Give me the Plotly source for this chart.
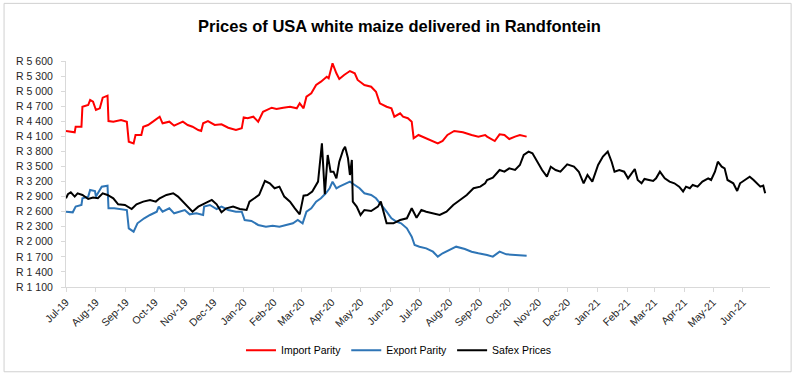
import plotly.graph_objects as go

# ---------------- data ----------------
import_dates = ["2019-07-01","2019-07-10","2019-07-11","2019-07-17","2019-07-18","2019-07-24","2019-07-26","2019-07-29",
    "2019-08-01","2019-08-05","2019-08-08","2019-08-13","2019-08-14","2019-08-19","2019-08-27","2019-09-02","2019-09-04",
    "2019-09-09","2019-09-11","2019-09-17","2019-09-19","2019-09-24","2019-09-29","2019-10-06","2019-10-09","2019-10-16",
    "2019-10-21","2019-10-30","2019-11-04","2019-11-09","2019-11-15","2019-11-18","2019-11-20","2019-11-25","2019-12-02",
    "2019-12-09","2019-12-16","2019-12-24","2019-12-30","2020-01-01","2020-01-05","2020-01-11","2020-01-16","2020-01-21",
    "2020-01-30","2020-02-04","2020-02-11","2020-02-18","2020-02-25","2020-02-28","2020-03-03","2020-03-06","2020-03-11",
    "2020-03-16","2020-03-21","2020-03-27","2020-03-29","2020-04-02","2020-04-06","2020-04-09","2020-04-14","2020-04-20",
    "2020-04-25","2020-04-28","2020-05-05","2020-05-12","2020-05-17","2020-05-21","2020-05-28","2020-06-02","2020-06-05",
    "2020-06-11","2020-06-14","2020-06-19","2020-06-23","2020-06-25","2020-06-30","2020-07-06","2020-07-13","2020-07-20",
    "2020-07-25","2020-07-30","2020-08-06","2020-08-15","2020-08-24","2020-08-31","2020-09-07","2020-09-09","2020-09-17",
    "2020-09-22","2020-09-27","2020-10-02","2020-10-08","2020-10-13","2020-10-20"]
import_parity = [4206,4180,4292,4292,4690,4724,4824,4790,
    4624,4658,4870,4910,4405,4392,4425,4392,3993,
    3960,4127,4127,4292,4326,4392,4491,4360,4392,
    4312,4392,4326,4292,4226,4206,4360,4405,4326,
    4340,4272,4226,4260,4478,4460,4491,4392,4590,
    4670,4645,4670,4690,4658,4758,4658,4890,4957,
    5122,5188,5287,5255,5553,5355,5241,5321,5400,
    5355,5222,5122,5088,4989,4758,4690,4658,4491,
    4558,4491,4460,4392,4062,4127,4074,4027,3960,
    4007,4127,4206,4180,4127,4094,4127,4094,4007,
    4140,4127,4047,4094,4127,4094]

export_dates = ["2019-07-01","2019-07-08","2019-07-11","2019-07-17","2019-07-18","2019-07-24","2019-07-26","2019-07-31",
    "2019-08-01","2019-08-07","2019-08-13","2019-08-14","2019-08-20","2019-08-27","2019-09-02","2019-09-04","2019-09-09",
    "2019-09-13","2019-09-20","2019-09-26","2019-10-03","2019-10-05","2019-10-09","2019-10-16","2019-10-21","2019-11-01",
    "2019-11-06","2019-11-13","2019-11-20","2019-11-21","2019-11-27","2019-12-04","2019-12-09","2019-12-16","2019-12-24",
    "2019-12-30","2020-01-02","2020-01-09","2020-01-16","2020-01-24","2020-01-31","2020-02-07","2020-02-14","2020-02-21",
    "2020-02-26","2020-03-02","2020-03-06","2020-03-11","2020-03-16","2020-03-21","2020-03-26","2020-03-30","2020-04-02",
    "2020-04-06","2020-04-09","2020-04-14","2020-04-20","2020-04-25","2020-04-30","2020-05-05","2020-05-12","2020-05-17",
    "2020-05-23","2020-05-28","2020-06-02","2020-06-07","2020-06-12","2020-06-18","2020-06-23","2020-06-26","2020-07-01",
    "2020-07-08","2020-07-15","2020-07-20","2020-07-25","2020-08-01","2020-08-08","2020-08-17","2020-08-24","2020-08-31",
    "2020-09-07","2020-09-09","2020-09-15","2020-09-22","2020-09-29","2020-10-06","2020-10-13","2020-10-20"]
export_parity = [2600,2587,2700,2733,2867,2900,3032,3012,
    2900,3098,3118,2667,2667,2653,2633,2268,2202,
    2368,2468,2534,2600,2700,2600,2667,2567,2633,
    2547,2567,2534,2700,2733,2653,2700,2633,2600,
    2600,2434,2414,2335,2301,2321,2301,2335,2368,
    2434,2368,2600,2667,2800,2867,2966,3066,3198,
    3066,3100,3150,3198,3132,3066,2966,2933,2867,
    2733,2600,2468,2401,2368,2268,2102,1937,1903,
    1870,1803,1704,1771,1837,1903,1857,1803,1771,
    1751,1737,1704,1803,1751,1737,1724,1724]

safex_dates = ["2019-07-01","2019-07-03","2019-07-06","2019-07-10","2019-07-13","2019-07-18","2019-07-24","2019-07-29",
    "2019-08-03","2019-08-08","2019-08-13","2019-08-19","2019-08-24","2019-08-31","2019-09-07","2019-09-12","2019-09-19",
    "2019-09-26","2019-10-02","2019-10-06","2019-10-13","2019-10-20","2019-10-25","2019-10-30","2019-11-04","2019-11-09",
    "2019-11-15","2019-11-20","2019-11-22","2019-11-29","2019-12-04","2019-12-09","2019-12-14","2019-12-21","2019-12-28",
    "2020-01-04","2020-01-07","2020-01-12","2020-01-17","2020-01-23","2020-01-28","2020-02-02","2020-02-07","2020-02-12",
    "2020-02-18","2020-02-23","2020-02-28","2020-03-03","2020-03-07","2020-03-12","2020-03-18","2020-03-22","2020-03-25",
    "2020-03-28","2020-03-31","2020-04-03","2020-04-06","2020-04-09","2020-04-13","2020-04-15","2020-04-18","2020-04-20",
    "2020-04-22","2020-04-23","2020-04-27","2020-05-01","2020-05-05","2020-05-12","2020-05-19","2020-05-22","2020-05-25",
    "2020-05-28","2020-06-04","2020-06-11","2020-06-18","2020-06-23","2020-06-28","2020-07-03","2020-07-08","2020-07-15",
    "2020-07-22","2020-07-29","2020-08-05","2020-08-12","2020-08-19","2020-08-26","2020-09-02","2020-09-07","2020-09-09",
    "2020-09-15","2020-09-22","2020-09-27","2020-10-02","2020-10-08","2020-10-13","2020-10-17","2020-10-22","2020-10-26",
    "2020-10-31","2020-11-05","2020-11-10","2020-11-14","2020-11-19","2020-11-24","2020-12-01","2020-12-08","2020-12-13",
    "2020-12-18","2020-12-22","2020-12-27","2021-01-02","2021-01-07","2021-01-12","2021-01-16","2021-01-19","2021-01-24",
    "2021-01-29","2021-02-02","2021-02-05","2021-02-09","2021-02-12","2021-02-16","2021-02-19","2021-02-24","2021-02-28",
    "2021-03-03","2021-03-07","2021-03-12","2021-03-17","2021-03-22","2021-03-27","2021-03-31","2021-04-03","2021-04-07",
    "2021-04-10","2021-04-15","2021-04-20","2021-04-26","2021-04-29","2021-05-03","2021-05-06","2021-05-10","2021-05-13",
    "2021-05-16","2021-05-22","2021-05-26","2021-05-29","2021-06-03","2021-06-08","2021-06-12","2021-06-15","2021-06-19",
    "2021-06-22","2021-06-24"]
safex_prices = [2867,2946,2986,2900,2966,2933,2853,2880,
    2867,2966,2933,2867,2747,2733,2653,2747,2800,
    2833,2800,2867,2933,2966,2900,2800,2700,2600,
    2700,2747,2766,2833,2747,2587,2667,2700,2653,
    2633,2800,2867,2933,3211,3165,3066,3098,2900,
    2800,2667,2547,2919,2933,3002,3198,3961,2946,
    3729,3396,3396,3264,3595,3828,3894,3663,3330,
    3629,2800,2700,2534,2633,2613,2700,2800,2600,
    2368,2368,2434,2468,2667,2480,2633,2600,2567,
    2534,2600,2733,2833,2933,3066,3098,3165,3231,
    3277,3430,3396,3463,3430,3529,3729,3795,3762,
    3595,3430,3297,3496,3430,3396,3543,3496,3396,
    3165,3330,3198,3529,3696,3795,3595,3396,3430,
    3396,3264,3343,3450,3231,3165,3251,3231,3211,
    3264,3396,3264,3198,3165,3098,3002,3098,3066,
    3132,3098,3198,3264,3231,3396,3595,3496,3463,
    3231,3165,3012,3165,3231,3297,3231,3165,3098,
    3118,2966]

y_tick_values = [1100,1400,1700,2000,2300,2600,2900,3200,3500,3800,4100,4400,4700,5000,5300,5600]
y_tick_labels = ["R 1 100","R 1 400","R 1 700","R 2 000","R 2 300","R 2 600","R 2 900","R 3 200",
                 "R 3 500","R 3 800","R 4 100","R 4 400","R 4 700","R 5 000","R 5 300","R 5 600"]

title_text = "Prices of USA white maize delivered in Randfontein"
series_names = ["Import Parity", "Export Parity", "Safex Prices"]

# ---------------- figure ----------------
FONT = "Liberation Sans"
fig = go.Figure()
fig.add_trace(go.Scatter(x=import_dates, y=import_parity, mode="lines", name=series_names[0],
                         line=dict(color="#ff0000", width=2)))
fig.add_trace(go.Scatter(x=export_dates, y=export_parity, mode="lines", name=series_names[1],
                         line=dict(color="#2e75b6", width=2)))
fig.add_trace(go.Scatter(x=safex_dates, y=safex_prices, mode="lines", name=series_names[2],
                         line=dict(color="#000000", width=2)))

fig.update_layout(
    width=799, height=379,
    margin=dict(l=66, r=29, t=61, b=92, autoexpand=False),
    paper_bgcolor="white", plot_bgcolor="white",
    font=dict(family=FONT, size=10.5, color="#262626"),
    title=dict(text="<b>" + title_text + "</b>", x=0.5, xanchor="center", y=0.93, yanchor="middle",
               font=dict(family=FONT, size=16.5, color="#000000")),
    showlegend=True,
    legend=dict(orientation="h", x=0.473, xanchor="center", y=-0.28, yanchor="middle",
                font=dict(family=FONT, size=10.5, color="#000000"),
                itemwidth=30, tracegroupgap=0, bgcolor="rgba(0,0,0,0)"),
    shapes=[dict(type="rect", xref="paper", yref="paper", x0=-0.088, x1=1.03, y0=-0.375, y1=1.255,
                 line=dict(color="#d0d0d0", width=1), fillcolor="rgba(0,0,0,0)", layer="below")],
)

fig.update_xaxes(
    type="date", range=["2019-07-01", "2021-06-29"], automargin=False,
    tick0="2019-07-01", dtick="M1", tickformat="%b-%y", tickangle=-45,
    showgrid=False, zeroline=False,
    showline=True, linecolor="#d9d9d9", linewidth=1,
    ticks="outside", ticklen=4, tickcolor="#d9d9d9",
    tickfont=dict(family=FONT, size=10.5, color="#262626"),
)
fig.update_yaxes(
    range=[1100, 5600], tickvals=y_tick_values, ticktext=y_tick_labels, automargin=False,
    showgrid=False, zeroline=False,
    showline=True, linecolor="#d9d9d9", linewidth=1,
    ticks="outside", ticklen=4, tickcolor="#d9d9d9", ticklabelstandoff=6,
    tickfont=dict(family=FONT, size=10.5, color="#262626"),
)

fig.write_html("out.html", config={"displayModeBar": False},
               post_script="document.body.style.margin='0';document.body.style.overflow='hidden';")
